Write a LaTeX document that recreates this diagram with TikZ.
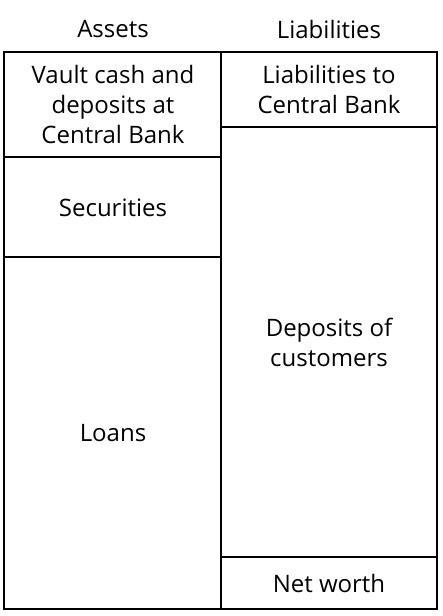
\documentclass[tikz,border=0pt]{standalone}
\usepackage{fontspec}
\setmainfont{Open Sans}
\tikzset{
  label/.style = {font=\fontsize{24}{30}\selectfont, align=center, inner sep=0pt},
}
\begin{document}
\begin{tikzpicture}[x = 1pt, y = -1pt, line width = 2pt]
            \useasboundingbox (0, 0) rectangle (443, 616);
            \draw (4, 52) rectangle (437, 609);
            \draw (221, 52) -- (221, 609);
            \draw (4, 157) -- (221, 157);
            \draw (4, 257) -- (221, 257);
            \draw (221, 127) -- (437, 127);
            \draw (221, 557) -- (437, 557);
            \node[label] (assets) at (113, 29) {Assets};
            \node[label] (liab) at (329, 29) {Liabilities};
            \node[label] (vault) at (113, 104) {Vault cash and\\deposits at\\Central Bank};
            \node[label] (liabcb) at (329, 89) {Liabilities to\\Central Bank};
            \node[label] (secur) at (113, 208) {Securities};
            \node[label] (loans) at (113, 433) {Loans};
            \node[label] (depos) at (329, 342) {Deposits of\\customers};
            \node[label] (networth) at (329, 583) {Net worth};
        \end{tikzpicture}
\end{document}
